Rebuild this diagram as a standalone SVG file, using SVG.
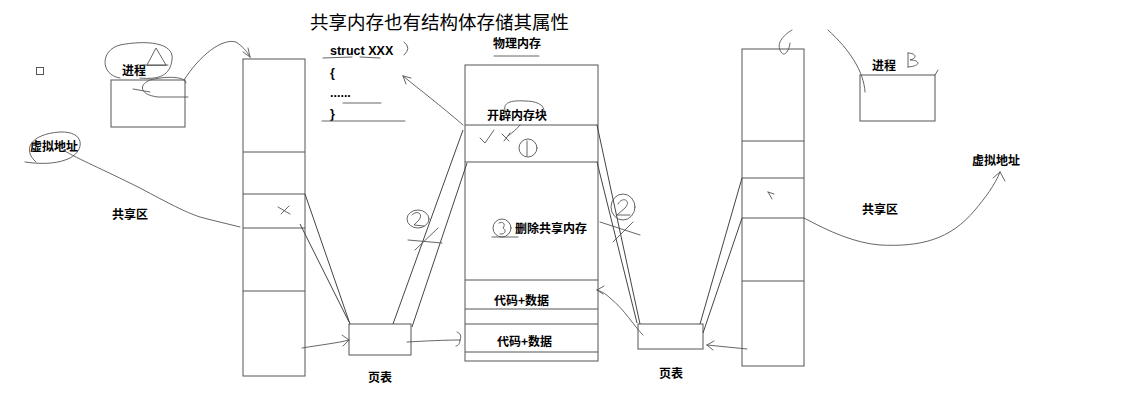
<svg xmlns="http://www.w3.org/2000/svg" width="1122" height="417" viewBox="0 0 1122 417">
<style>
.bx{fill:none;stroke:#555;stroke-width:1}
.ln{fill:none;stroke:#444;stroke-width:1}
.hd{fill:none;stroke:#555;stroke-width:0.9;stroke-linecap:round;stroke-linejoin:round}
.lb{font-family:"Noto Sans CJK SC","Liberation Sans",sans-serif;font-weight:bold;font-size:12px;fill:#000}
.tt{font-family:"Noto Sans CJK SC","Liberation Sans",sans-serif;font-size:18.5px;fill:#000}
.cd{font-family:"Liberation Sans","Noto Sans CJK SC",sans-serif;font-weight:bold;font-size:12.5px;fill:#000}
</style>
<rect width="1122" height="417" fill="#fff"/>

<text class="tt" x="310" y="29">共享内存也有结构体存储其属性</text>

<g id="struct">
<text class="cd" x="330" y="55">struct XXX</text>
<text class="cd" x="330" y="77">{</text>
<text class="cd" x="330" y="97">......</text>
<text class="cd" x="330" y="118">}</text>
<path class="hd" d="M323,58 L352,57 M360,57 L380,58 M343,103 L381,103 M322,121 L405,121 M404,42 Q412,48 404,55"/>
</g>

<g id="small-square"><rect class="bx" x="36.5" y="67.5" width="7" height="7"/></g>

<g id="processA">
<rect class="bx" x="111" y="80" width="74" height="47"/>
<text class="lb" x="122" y="75">进程</text>
<path class="hd" d="M120,78 C100,75 100,50 120,45 C145,40 175,42 172,60 C170,75 160,80 140,78"/>
<path class="hd" d="M147,65 L156,48 L166,65 Z M143,65 L168,65"/>
<path class="hd" d="M133,89 L150,92 M186,83 C186,76 165,76 150,80 C138,85 140,95 158,97 L188,97"/>
</g>

<g id="vaddrA">
<text class="lb" x="30" y="151">虚拟地址</text>
<path class="hd" d="M36,162 C22,150 30,134 60,132 C85,131 85,150 70,158 C60,163 45,165 25,162"/>
</g>
<g id="shareA"><text class="lb" x="112" y="219">共享区</text></g>

<g id="colA">
<rect class="bx" x="243" y="59" width="62" height="317"/>
<path class="bx" d="M243,152 H305 M243,194 H305 M243,228 H305 M243,291 H305"/>
<path class="hd" d="M278,207 L290,214 M281,214 L289,206"/>
</g>

<g id="pageA">
<rect class="bx" x="349" y="324" width="62" height="31"/>
<text class="lb" x="368" y="382">页表</text>
</g>

<g id="phys">
<rect class="bx" x="465" y="65" width="133" height="296"/>
<path class="bx" d="M465,125 H598 M465,162 H598 M465,280 H598 M465,309 H598 M465,324 H598 M465,352 H598"/>
<text class="lb" x="493" y="48">物理内存</text>
<path class="hd" d="M494,56 H539"/>
<text class="lb" x="487" y="120">开辟内存块</text>
<path class="hd" d="M505,110 C503,103 510,100 525,101 C535,101 545,104 544,112"/>
<path class="hd" d="M480,138 L485,143 L494,130 M502,134 L509,141 M504,141 L510,133 M508,136 C513,132 517,129 520,125"/>
<ellipse class="hd" cx="528" cy="148" rx="9" ry="9"/>
<path class="hd" d="M527,141 V156"/>
<text class="lb" x="515" y="233">删除共享内存</text>
<ellipse class="hd" cx="502" cy="228" rx="9" ry="9"/>
<path class="hd" d="M499,223 C503,221 506,224 503,228 C507,230 505,235 500,234 M492,237 H518"/>
<text class="lb" x="494" y="305">代码+数据</text>
<text class="lb" x="497" y="346">代码+数据</text>
</g>

<g id="pageB">
<rect class="bx" x="638" y="324" width="65" height="25"/>
<text class="lb" x="659" y="378">页表</text>
</g>

<g id="colB">
<rect class="bx" x="742" y="49" width="62" height="317"/>
<path class="bx" d="M742,141 H804 M742,178 H804 M742,218 H804 M742,281 H804"/>
<path class="hd" d="M768,192 L772,199 M768,192 L774,194"/>
<path class="hd" d="M792,30 C782,36 776,44 781,52 C784,57 789,52 790,43"/>
</g>

<g id="processB">
<rect class="bx" x="860" y="75" width="75" height="46"/>
<text class="lb" x="872" y="70">进程</text>
<path class="hd" d="M908,53 V67 M908,53 C916,53 918,58 910,60 C920,60 922,66 908,67"/>
<path class="hd" d="M935,75 L938,70"/>
</g>
<g id="vaddrB"><text class="lb" x="972" y="165">虚拟地址</text></g>
<g id="shareB"><text class="lb" x="862" y="214">共享区</text></g>

<g id="connectors">
<path class="ln" d="M305,194 L350,324 M300,224 L349,322"/>
<path class="ln" d="M393,324 L463,130 M412,327 L467,163"/>
<path class="ln" d="M597,125 L640,324 M597,162 L637,323"/>
<path class="ln" d="M700,324 L742,178 M703,333 L742,218"/>
<path class="hd" d="M184,80 C200,55 222,38 236,42 C242,46 246,50 250,57 M250,57 L248,48 M250,57 L243,52"/>
<path class="hd" d="M63,150 C80,160 100,168 140,188 C170,204 185,212 200,217 C215,221 228,224 240,227"/>
<path class="hd" d="M302,348 C320,345 338,343 349,340 M349,340 L342,335 M349,340 L343,346"/>
<path class="hd" d="M407,342 C425,341 445,340 460,340 M460,340 C462,336 460,333 457,332 M460,340 C460,344 458,346 456,346"/>
<path class="hd" d="M463,125 C440,105 420,90 403,76 M403,76 L411,78 M403,76 L406,84"/>
<path class="hd" d="M643,335 C633,325 625,310 610,298 C605,293 600,291 597,290 M597,290 L604,286 M597,290 L603,294"/>
<path class="hd" d="M747,349 L707,345 M707,345 L714,341 M707,345 L713,350"/>
<path class="hd" d="M804,218 C830,232 855,243 880,245 C920,247 950,240 975,210 C985,198 995,185 1000,172 M1000,172 L993,178 M1000,172 L1005,181"/>
<path class="hd" d="M865,92 C864,72 850,50 828,30"/>
<ellipse class="hd" cx="418" cy="219" rx="11" ry="9"/>
<path class="hd" d="M412,215 C416,210 424,213 419,220 L414,225 L424,226 M415,250 L438,228 M408,240 L442,243"/>
<ellipse class="hd" cx="623" cy="207" rx="12" ry="13"/>
<path class="hd" d="M618,204 C622,196 632,200 625,208 L617,215 L630,215 M600,222 L640,235 M613,242 L633,222"/>
</g>
</svg>
